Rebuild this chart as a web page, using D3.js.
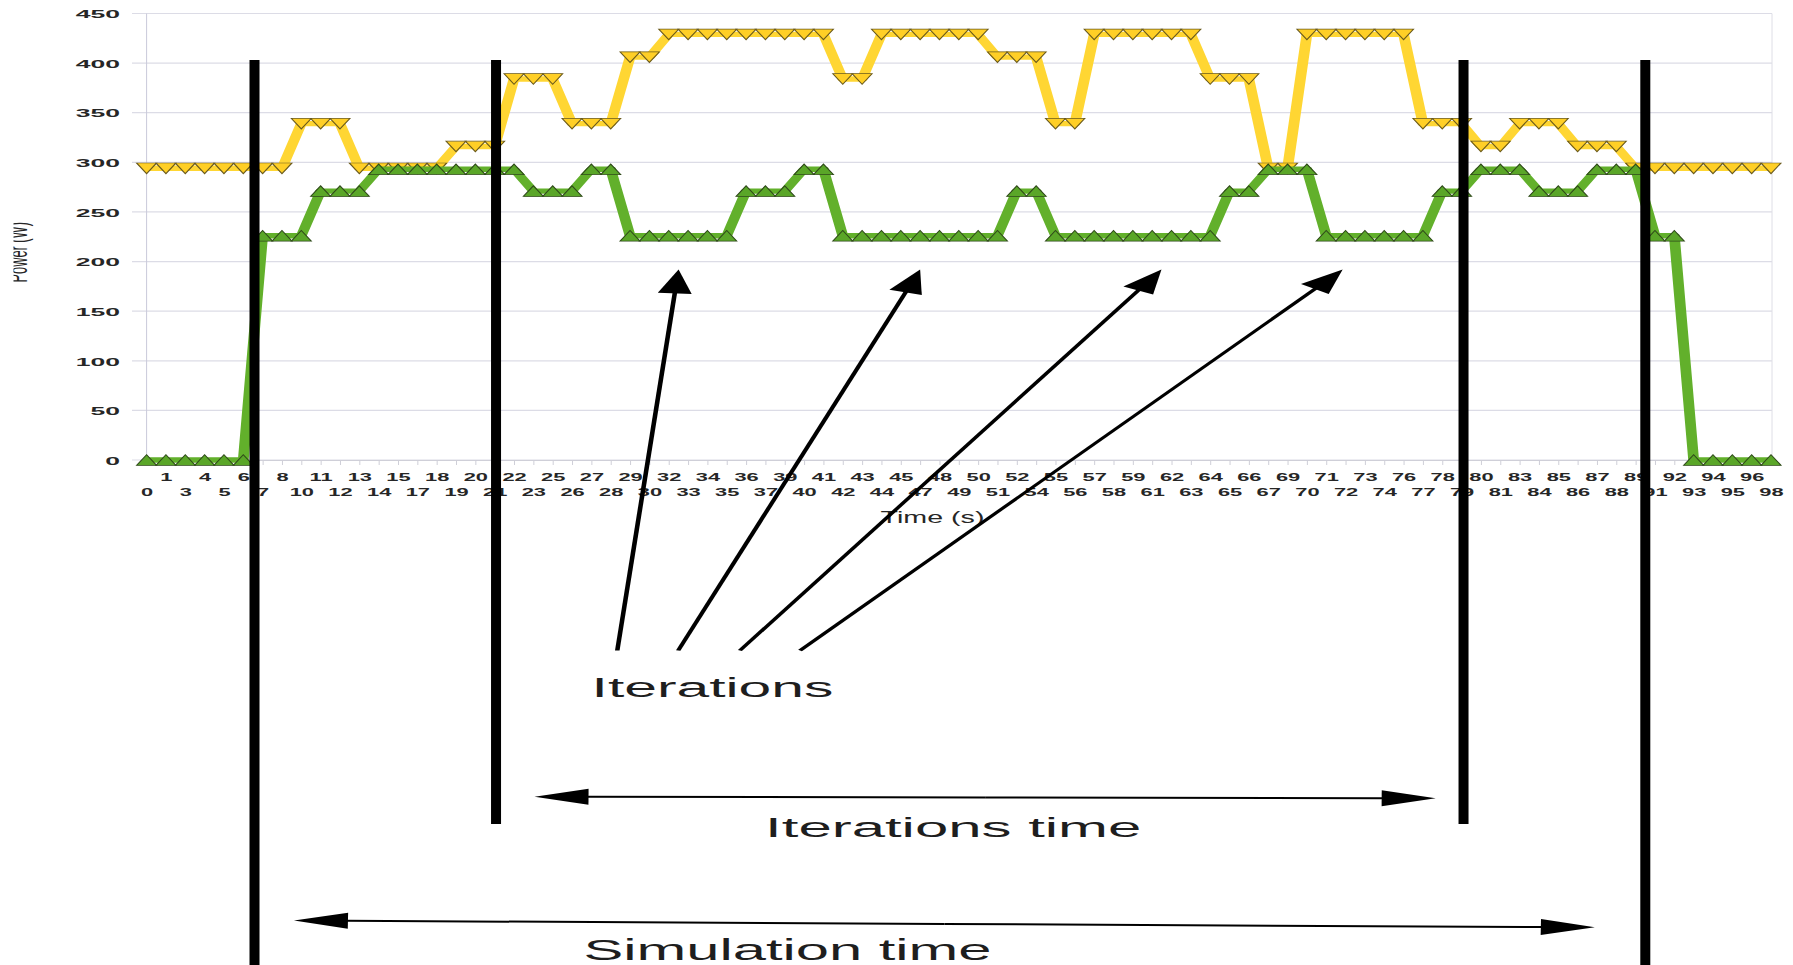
<!DOCTYPE html>
<html>
<head>
<meta charset="utf-8">
<script src="https://cdn.jsdelivr.net/npm/d3@7"></script>
<style>
  html, body { margin: 0; padding: 0; background: #fff; }
  svg { display: block; }
  text { font-family: "Liberation Sans", Arial, Helvetica, sans-serif; }
</style>
</head>
<body>
<svg id="chart" width="1793" height="965"></svg>
<script>
// ---- data -------------------------------------------------------------
// Sample times (s) shown on the category axis
const timeLabels = [0,1,3,4,5,6,7,8,10,11,12,13,14,15,17,18,19,20,21,22,23,25,26,27,28,29,30,32,33,34,35,36,37,39,40,41,42,43,44,45,47,48,49,50,51,52,54,55,56,57,58,59,61,62,63,64,65,66,67,69,70,71,72,73,74,76,77,78,79,80,81,83,84,85,86,87,88,89,91,92,93,94,95,96,98];

// Power draw (W), upper series
const yellowPower = [294,294,294,294,294,294,294,294, 339,339,339, 294,294,294,294,294,
  316,316,316, 384,384,384, 339,339,339, 406,406,
  429,429,429,429,429,429,429,429,429, 384,384, 429,429,429,429,429,429,
  406,406,406, 339,339, 429,429,429,429,429,429, 384,384,384, 294,294,
  429,429,429,429,429,429, 339,339,339, 316,316, 339,339,339, 316,316,316,
  294,294,294,294,294,294,294,294];

// Power draw (W), lower series
const greenPower = [0,0,0,0,0,0, 226,226,226, 271,271,271,
  293,293,293,293,293,293,293,293, 271,271,271, 293,293,
  226,226,226,226,226,226, 271,271,271, 293,293,
  226,226,226,226,226,226,226,226,226, 271,271,
  226,226,226,226,226,226,226,226,226, 271,271, 293,293,293,
  226,226,226,226,226,226, 271,271, 293,293,293, 271,271,271, 293,293,293,
  226,226, 0,0,0,0,0];

const yTicks = [0,50,100,150,200,250,300,350,400,450];

// Phase boundaries, as positions on the category axis
const phaseBounds = [5.58, 18.07, 68.1, 77.5];
const phaseIsIteration = [false, true, true, false];

// "Iterations" callouts: tail (index, W) -> tip (index, W)
const calloutTails = [[24.34,-192],[27.49,-192],[30.68,-192],[33.79,-192]];
const calloutTips  = [[27.51,192],[40.0,192],[52.48,192],[61.85,192]];

// Span arrows: [start index, start W, end index, end W]
const iterationSpan  = [20.06, -339.3, 66.66, -341.0];
const simulationSpan = [7.62, -464.1, 74.89, -471.0];

// ---- layout -----------------------------------------------------------
const SX = 2;               // horizontal stretch of the drawing
const W = 1793, H = 965;
const plotL = 146.6, plotR = 1771, plotT = 13.5, plotB = 460;

const svg = d3.select("#chart");

const xFull = d3.scaleLinear().domain([0, timeLabels.length - 1]).range([plotL, plotR]);
const x = d3.scaleLinear().domain(xFull.domain()).range([plotL / SX, plotR / SX]);
const y = d3.scaleLinear().domain([0, 450]).range([plotB, plotT]);

// ---- grid & frame -----------------------------------------------------
const grid = svg.append("g");
grid.selectAll("line.grid").data(yTicks).join("line")
  .attr("x1", 132).attr("x2", 1772)
  .attr("y1", d => y(d)).attr("y2", d => y(d))
  .attr("stroke", "#dcdce6").attr("stroke-width", 1.2);
grid.append("line")
  .attr("x1", plotL).attr("x2", plotL).attr("y1", y(450)).attr("y2", y(0))
  .attr("stroke", "#c9c9da").attr("stroke-width", 1);
grid.append("line")
  .attr("x1", 1772).attr("x2", 1772).attr("y1", y(450)).attr("y2", y(0))
  .attr("stroke", "#dedee6").attr("stroke-width", 1);

// y axis
const yAxis = svg.append("g")
  .attr("transform", `translate(${plotL},0)`)
  .call(d3.axisLeft(y).tickValues(yTicks).tickSize(0).tickPadding(0));
yAxis.select(".domain").remove();
yAxis.selectAll("text")
  .attr("x", 0).attr("dy", "0.36em")
  .attr("transform", "translate(-26.6,0) scale(2.25,1)")
  .attr("font-size", 11.8).attr("font-weight", "bold").attr("fill", "#262626")
  .attr("font-family", null);

// x axis
const xAxis = svg.append("g")
  .attr("transform", `translate(0,${plotB})`)
  .call(d3.axisBottom(xFull).tickValues(d3.range(timeLabels.length))
    .tickFormat(i => timeLabels[i]).tickSize(5).tickSizeOuter(0));
xAxis.select(".domain").attr("stroke", "#cfcfd8");
xAxis.selectAll(".tick line").attr("stroke", "#cfcfd8");
xAxis.selectAll("text")
  .attr("y", 0).attr("dy", "0.36em")
  .attr("transform", (d, i) => `translate(0,${i % 2 ? 17 : 31.7}) scale(1.85,1)`)
  .attr("font-size", 11.8).attr("font-weight", "bold").attr("fill", "#262626")
  .attr("font-family", null);

// axis titles
svg.append("text")
  .attr("transform", `translate(932.5,523) scale(1.79,1)`)
  .attr("text-anchor", "middle").attr("font-size", 16).attr("fill", "#262626")
  .text("Time (s)");

svg.append("clipPath").attr("id", "ylabClip")
  .append("rect").attr("x", 13.5).attr("y", 150).attr("width", 40).attr("height", 200);
svg.append("g").attr("clip-path", "url(#ylabClip)")
  .append("text")
  .attr("transform", `translate(27,252.3) scale(2.1,1) rotate(-90)`)
  .attr("text-anchor", "middle").attr("font-size", 12.8).attr("fill", "#262626")
  .text("Power (W)");

// ---- series -----------------------------------------------------------
const plot = svg.append("g").attr("transform", `scale(${SX},1)`);

const line = d3.line().x((d, i) => x(i)).y(d => y(d));
const triW = 10, triH = 10.6;
const triDown = `M${-triW/2},${-triH/2}L${triW/2},${-triH/2}L0,${triH/2}Z`;
const triUp   = `M${-triW/2},${triH/2}L${triW/2},${triH/2}L0,${-triH/2}Z`;

function drawSeries(values, lineColor, fill, edge, shape) {
  plot.append("path").datum(values)
    .attr("d", line).attr("fill", "none")
    .attr("stroke", lineColor).attr("stroke-width", 5.4)
    .attr("stroke-linejoin", "round");
  plot.append("g").selectAll("path").data(values).join("path")
    .attr("transform", (d, i) => `translate(${x(i)},${y(d)})`)
    .attr("d", shape)
    .attr("fill", fill).attr("stroke", edge).attr("stroke-width", 0.7);
}
drawSeries(yellowPower, "#ffd633", "#ffcf26", "#6a5a1c", triDown);
drawSeries(greenPower, "#62b02b", "#5aa628", "#2f4a1a", triUp);

// ---- annotations ------------------------------------------------------
const notes = svg.append("g");
const noteText = (txt, cx, base, size, sx) => notes.append("text")
  .attr("transform", `translate(${cx},${base}) scale(${sx},1)`)
  .attr("text-anchor", "middle").attr("font-size", size).attr("fill", "#1e1e1e")
  .text(txt);
noteText("Iterations", 712.5, 697.3, 28, 2.1);
noteText("Iterations time", 953.2, 836.7, 28, 2.14);
noteText("Simulation time", 787.5, 959.5, 30, 1.99);

const ann = svg.append("g").attr("transform", `scale(${SX},1)`);

// phase boundary bars
ann.selectAll("rect.phase").data(phaseBounds).join("rect")
  .attr("x", d => x(d) - 2.5).attr("width", 5)
  .attr("y", 60).attr("height", (d, i) => (phaseIsIteration[i] ? 824 : H) - 60)
  .attr("fill", "#000");

function arrow(x0, y0, x1, y1, width, headLen, headHalf) {
  const dx = x1 - x0, dy = y1 - y0, len = Math.hypot(dx, dy);
  const ux = dx / len, uy = dy / len, px = -uy, py = ux;
  const bx = x1 - ux * headLen, by = y1 - uy * headLen;
  ann.append("line").attr("x1", x0).attr("y1", y0).attr("x2", bx + ux).attr("y2", by + uy)
    .attr("stroke", "#000").attr("stroke-width", width);
  ann.append("path")
    .attr("d", `M${x1},${y1}L${bx + px * headHalf},${by + py * headHalf}L${bx - px * headHalf},${by - py * headHalf}Z`)
    .attr("fill", "#000");
}

calloutTails.forEach((t, k) => {
  const tip = calloutTips[k];
  arrow(x(t[0]), y(t[1]), x(tip[0]), y(tip[1]), 2.3, 24, 8.5);
});

function spanArrow(s, width) {
  const ax = x(s[0]), ay = y(s[1]), bx = x(s[2]), by = y(s[3]);
  const mx = (ax + bx) / 2, my = (ay + by) / 2;
  arrow(mx, my, ax, ay, width, 27, 8);
  arrow(mx, my, bx, by, width, 27, 8);
}
spanArrow(iterationSpan, 2);
spanArrow(simulationSpan, 2);
</script>
</body>
</html>
